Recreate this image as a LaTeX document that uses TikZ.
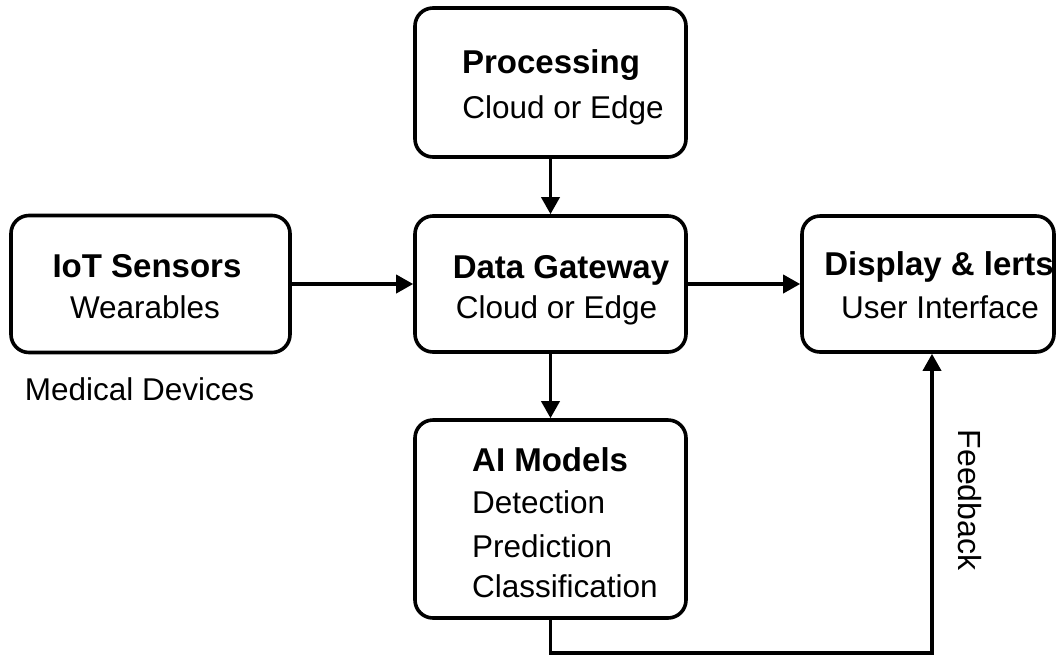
\documentclass[tikz,border=0pt]{standalone}
\usepackage{fontspec}
\setmainfont{Liberation Sans}
\usetikzlibrary{arrows.meta}
\tikzset{
  box/.style={draw=black, line width=3.6pt, rounded corners=18pt, fill=white, inner sep=0pt},
  ttl/.style={anchor=base, inner sep=0pt, font=\fontsize{33}{36}\selectfont\bfseries},
  sub/.style={anchor=base, inner sep=0pt, font=\fontsize{31.5}{36}\selectfont},
  subl/.style={anchor=base west, inner sep=0pt, font=\fontsize{31.5}{36}\selectfont},
  ttll/.style={anchor=base west, inner sep=0pt, font=\fontsize{33}{36}\selectfont\bfseries},
  conn/.style={line width=3.6pt, -{Triangle[length=17pt,width=18pt]}},
}
\begin{document}
\begin{tikzpicture}[x=1pt, y=-1pt]
\useasboundingbox[fill=white] (0,0) rectangle (1057,657);
% boxes
\node[box, minimum width=271pt, minimum height=149pt] (proc) at (550.5,82.5) {};
\node[box, minimum width=271pt, minimum height=136pt] (gate) at (550.5,284) {};
\node[box, minimum width=279pt, minimum height=137pt] (iot) at (150.5,284) {};
\node[box, minimum width=252pt, minimum height=136pt] (disp) at (928,284) {};
\node[box, minimum width=271pt, minimum height=198pt] (ai) at (550.5,519) {};
% texts
\node[ttl] (procT) at (551,73) {Processing};
\node[sub] (procS) at (563,118) {Cloud or Edge};
\node[ttl] (iotT) at (147,277) {IoT Sensors};
\node[sub] (iotS) at (145,318) {Wearables};
\node[ttl] (gateT) at (561,278) {Data Gateway};
\node[sub] (gateS) at (556.5,318) {Cloud or Edge};
\node[ttl] (dispT) at (939,275) {Display \& lerts};
\node[sub] (dispS) at (940,318) {User Interface};
\node[ttll] (aiT) at (472,471) {AI Models};
\node[subl] (aiA) at (472,513) {Detection};
\node[subl] (aiB) at (472,557) {Prediction};
\node[subl] (aiC) at (472,597) {Classification};
\node[sub] (med) at (139.5,400) {Medical Devices};
\node[inner sep=0pt, rotate=-90, font=\fontsize{32}{36}\selectfont] (fbT) at (970,500) {Feedback};
% connectors
\coordinate (fbA) at (550.5,653);
\coordinate (fbB) at (932,653);
\draw[conn] (proc.south) -- (gate.north);
\draw[conn] (iot.east) -- (gate.west);
\draw[conn] (gate.east) -- (disp.west);
\draw[conn] (gate.south) -- (ai.north);
\draw[conn] (ai.south) -- (fbA) -- (fbB) -- (fbB |- disp.south);
\end{tikzpicture}
\end{document}
